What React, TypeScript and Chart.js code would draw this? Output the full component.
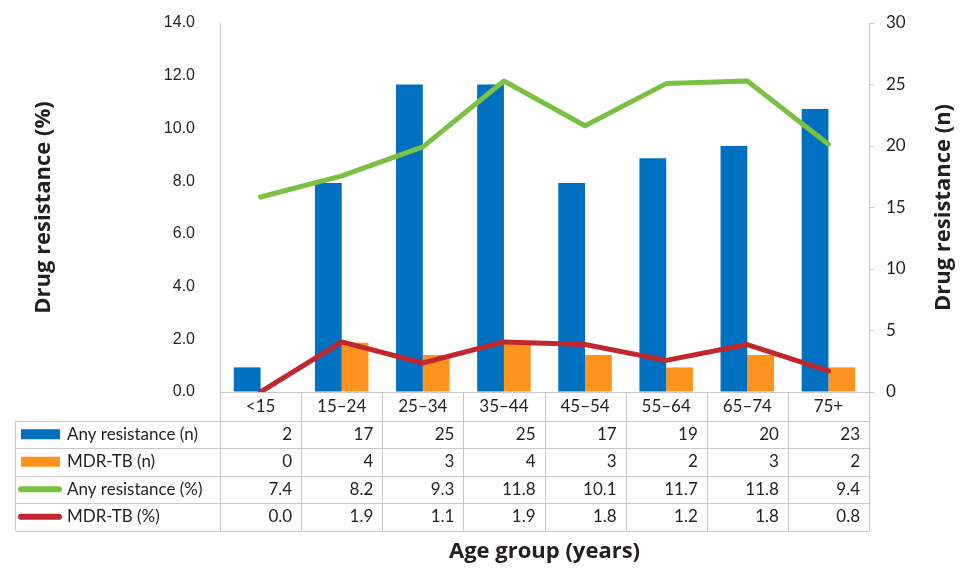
import React, { useEffect, useRef } from "react";
import { Chart, registerables } from "chart.js";

Chart.register(...registerables);

// ---- Data ----
const ageGroups = ["<15", "15–24", "25–34", "35–44", "45–54", "55–64", "65–74", "75+"];
const anyResistanceN = [2, 17, 25, 25, 17, 19, 20, 23];
const mdrTbN = [0, 4, 3, 4, 3, 2, 3, 2];
const anyResistancePct = [7.4, 8.2, 9.3, 11.8, 10.1, 11.7, 11.8, 9.4];
const mdrTbPct = [0.0, 1.9, 1.1, 1.9, 1.8, 1.2, 1.8, 0.8];

const seriesLabels = ["Any resistance (n)", "MDR-TB (n)", "Any resistance (%)", "MDR-TB (%)"];
const leftAxisTitle = "Drug resistance (%)";
const rightAxisTitle = "Drug resistance (n)";
const xAxisTitle = "Age group (years)";

const BLUE = "#0070C0";
const ORANGE = "#FF931E";
const GREEN = "#7AC143";
const RED = "#C1272D";
const GRID = "#c8c8c8";
const TEXT = "#231F20";
const FONT = "Lato, 'Open Sans', sans-serif";
const TITLE_FONT = "'Open Sans', Lato, sans-serif";

const tableRows = [
  { label: seriesLabels[0], values: anyResistanceN, kind: "bar", color: BLUE, dec: 0 },
  { label: seriesLabels[1], values: mdrTbN, kind: "bar", color: ORANGE, dec: 0 },
  { label: seriesLabels[2], values: anyResistancePct, kind: "line", color: GREEN, dec: 1 },
  { label: seriesLabels[3], values: mdrTbPct, kind: "line", color: RED, dec: 1 },
];

const TABLE_LEFT = 15;
const HEADER_H = 28;
const ROW_H = 27.5;

const tablePlugin = {
  id: "dataTable",
  afterDraw(chart: any) {
    const ctx = chart.ctx;
    const area = chart.chartArea;
    const x = chart.scales.x;
    const n = ageGroups.length;
    const colW = (area.right - area.left) / n;
    const top = Math.round(area.bottom) + 0.5;
    const bottom = top + HEADER_H + ROW_H * tableRows.length;
    const px = (v: number) => Math.round(v) + 0.5;

    ctx.save();
    ctx.strokeStyle = GRID;
    ctx.lineWidth = 1;
    ctx.beginPath();
    ctx.moveTo(px(area.left), top);
    ctx.lineTo(px(area.right), top);
    for (let i = 0; i <= n; i++) {
      const xi = px(area.left + i * colW);
      ctx.moveTo(xi, top);
      ctx.lineTo(xi, bottom);
    }
    ctx.moveTo(px(TABLE_LEFT), top + HEADER_H);
    ctx.lineTo(px(TABLE_LEFT), bottom);
    for (let r = 0; r <= tableRows.length; r++) {
      const y = px(top + HEADER_H + r * ROW_H);
      ctx.moveTo(px(TABLE_LEFT), y);
      ctx.lineTo(px(area.right), y);
    }
    ctx.stroke();

    ctx.fillStyle = TEXT;
    ctx.font = `17px ${FONT}`;
    ctx.textBaseline = "middle";
    ctx.textAlign = "center";
    ageGroups.forEach((g, i) => {
      ctx.fillText(g, x.getPixelForValue(i), top + HEADER_H / 2);
    });

    tableRows.forEach((row, r) => {
      const cy = top + HEADER_H + r * ROW_H + ROW_H / 2;
      if (row.kind === "bar") {
        ctx.fillStyle = row.color;
        ctx.fillRect(21, cy - 5, 39, 10);
      } else {
        ctx.strokeStyle = row.color;
        ctx.lineWidth = 6;
        ctx.lineCap = "round";
        ctx.beginPath();
        ctx.moveTo(21, cy);
        ctx.lineTo(59, cy);
        ctx.stroke();
      }
      ctx.fillStyle = TEXT;
      ctx.font = `17px ${FONT}`;
      ctx.textAlign = "left";
      ctx.fillText(row.label, 67, cy);
      ctx.textAlign = "right";
      row.values.forEach((v, i) => {
        const right = area.left + (i + 1) * colW - 9;
        ctx.fillText(v.toFixed(row.dec), right, cy);
      });
    });

    ctx.font = `bold 22px ${TITLE_FONT}`;
    ctx.fillStyle = TEXT;
    ctx.textAlign = "center";
    ctx.textBaseline = "middle";
    const midY = (area.top + area.bottom) / 2;
    ctx.save();
    ctx.translate(44, midY);
    ctx.rotate(-Math.PI / 2);
    ctx.fillText(leftAxisTitle, 0, 0);
    ctx.restore();
    ctx.save();
    ctx.translate(944, midY);
    ctx.rotate(-Math.PI / 2);
    ctx.fillText(rightAxisTitle, 0, 0);
    ctx.restore();
    ctx.fillText(xAxisTitle, (area.left + area.right) / 2, 552);
    ctx.restore();
  },
};

export default function App() {
  const ref = useRef<HTMLCanvasElement | null>(null);

  useEffect(() => {
    document.body.style.margin = "0";
    const canvas = ref.current;
    if (!canvas) return;
    const chart = new Chart(canvas, {
      type: "bar",
      data: {
        labels: ageGroups,
        datasets: [
          {
            type: "line",
            label: seriesLabels[2],
            data: anyResistancePct,
            yAxisID: "yL",
            borderColor: GREEN,
            backgroundColor: GREEN,
            borderWidth: 5,
            pointRadius: 0,
            borderCapStyle: "round",
            borderJoinStyle: "round",
            tension: 0,
            order: 0,
          } as any,
          {
            type: "line",
            label: seriesLabels[3],
            data: mdrTbPct,
            yAxisID: "yL",
            borderColor: RED,
            backgroundColor: RED,
            borderWidth: 5,
            pointRadius: 0,
            borderCapStyle: "round",
            borderJoinStyle: "round",
            tension: 0,
            order: 0,
          } as any,
          {
            type: "bar",
            label: seriesLabels[0],
            data: anyResistanceN,
            yAxisID: "yR",
            backgroundColor: BLUE,
            borderWidth: 0,
            categoryPercentage: 0.66,
            barPercentage: 1,
            order: 1,
          },
          {
            type: "bar",
            label: seriesLabels[1],
            data: mdrTbN,
            yAxisID: "yR",
            backgroundColor: ORANGE,
            borderWidth: 0,
            categoryPercentage: 0.66,
            barPercentage: 1,
            order: 1,
          },
        ],
      },
      options: {
        responsive: false,
        animation: false,
        devicePixelRatio: 1,
        layout: { padding: { top: 23, bottom: 190, left: 0, right: 0 } },
        plugins: {
          legend: { display: false },
          tooltip: { enabled: false },
        },
        scales: {
          x: {
            display: false,
            offset: true,
          },
          yL: {
            position: "left",
            min: 0,
            max: 14,
            ticks: {
              stepSize: 2,
              callback: (v: any) => Number(v).toFixed(1),
              font: { family: "'Liberation Sans', Arial, sans-serif", size: 16 },
              color: TEXT,
              padding: 0,
            },
            grid: {
              display: true,
              drawOnChartArea: false,
              drawTicks: true,
              tickLength: 25,
              color: "rgba(0,0,0,0)",
            },
            border: { display: true, color: GRID },
            afterFit: (s: any) => {
              s.width = 220;
            },
          },
          yR: {
            position: "right",
            min: 0,
            max: 30,
            ticks: {
              stepSize: 5,
              font: { family: FONT, size: 17 },
              color: TEXT,
              padding: 12,
            },
            grid: {
              display: true,
              drawOnChartArea: false,
              drawTicks: true,
              tickLength: 5,
              color: GRID,
            },
            border: { display: true, color: GRID },
            afterFit: (s: any) => {
              s.width = 111;
            },
          },
        },
      } as any,
      plugins: [tablePlugin],
    });
    return () => chart.destroy();
  }, []);

  return <canvas ref={ref} width={980} height={582} style={{ display: "block", width: 980, height: 582 }} />;
}
